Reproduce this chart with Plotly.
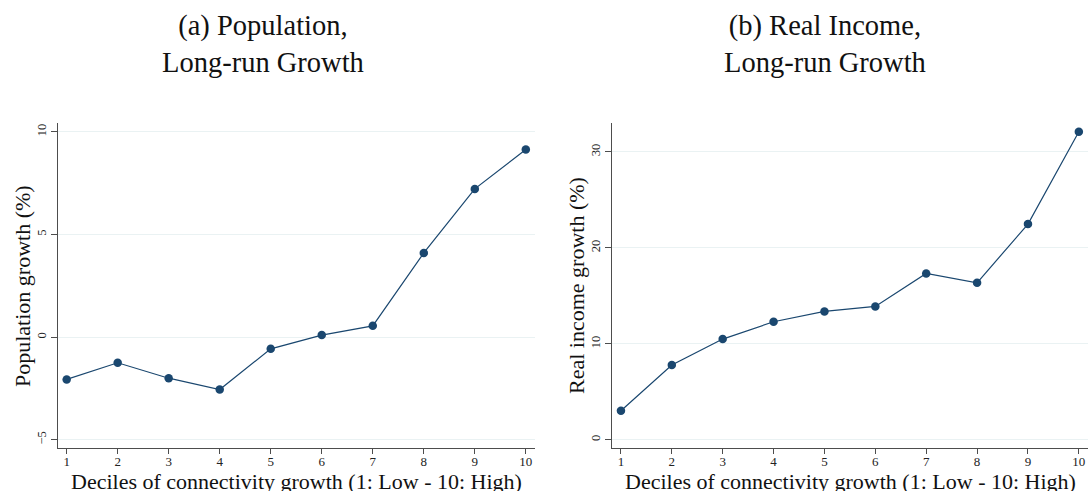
import plotly.graph_objects as go

deciles = [1, 2, 3, 4, 5, 6, 7, 8, 9, 10]
population_growth = [-2.06, -1.25, -2.0, -2.55, -0.57, 0.1, 0.55, 4.1, 7.22, 9.14]
real_income_growth = [3.02, 7.78, 10.49, 12.29, 13.37, 13.89, 17.32, 16.35, 22.47, 32.08]

pop_ticks = [-5, 0, 5, 10]
inc_ticks = [0, 10, 20, 30]

titles = ["(a) Population,<br>Long-run Growth", "(b) Real Income,<br>Long-run Growth"]
y_titles = ["Population growth (%)", "Real income growth (%)"]
x_title = "Deciles of connectivity growth (1: Low - 10: High)"

NAVY = "#1a476f"
GRID = "#eaf2f3"
AXIS = "#4d4d4d"
FONT = "Liberation Serif"

fig = go.Figure()
fig.add_trace(go.Scatter(x=deciles, y=population_growth, mode="lines+markers",
                         line=dict(color=NAVY, width=1.2),
                         marker=dict(color=NAVY, size=8.5), xaxis="x", yaxis="y",
                         showlegend=False))
fig.add_trace(go.Scatter(x=deciles, y=real_income_growth, mode="lines+markers",
                         line=dict(color=NAVY, width=1.2),
                         marker=dict(color=NAVY, size=8.5), xaxis="x2", yaxis="y2",
                         showlegend=False))

W, H = 1088, 491
dom_y = [1 - 448 / H, 1 - 123 / H]
dom_x1 = [58 / W, 535 / W]
dom_x2 = [612.3 / W, 1.0]

common_x = dict(tickvals=deciles, ticks="outside", ticklen=5, tickcolor=AXIS,
                showline=True, linecolor=AXIS, linewidth=1.2, showgrid=False,
                zeroline=False, tickfont=dict(family=FONT, size=13, color="#222"),
                ticklabelstandoff=-4, range=[0.83, 10.18])
common_y = dict(ticks="outside", ticklen=6, tickcolor=AXIS, tickangle=-90,
                showline=True, linecolor=AXIS, linewidth=1.2, showgrid=True,
                gridcolor=GRID, gridwidth=1.3, zeroline=False,
                tickfont=dict(family=FONT, size=12.5, color="#222"))

fig.update_layout(
    width=W, height=H, margin=dict(l=0, r=0, t=0, b=0),
    paper_bgcolor="white", plot_bgcolor="white",
    xaxis=dict(domain=dom_x1, anchor="y", **common_x),
    yaxis=dict(domain=dom_y, anchor="x", range=[-5.4, 10.43], tickvals=pop_ticks, **common_y),
    xaxis2=dict(domain=dom_x2, anchor="y2", **common_x),
    yaxis2=dict(domain=dom_y, anchor="x2", range=[-0.86, 33.0], tickvals=inc_ticks, **common_y),
)

ann = []
for cx, t in zip([263 / W, 825 / W], titles):
    ann.append(dict(text=t, x=cx, y=1 - 44 / H, xref="paper", yref="paper",
                    xanchor="center", yanchor="middle", showarrow=False,
                    font=dict(family=FONT, size=28.5, color="#111")))
for cx, t in zip([22 / W, 576 / W], y_titles):
    ann.append(dict(text=t, x=cx, y=1 - 286 / H, xref="paper", yref="paper",
                    xanchor="center", yanchor="middle", showarrow=False, textangle=-90,
                    font=dict(family=FONT, size=22, color="#111")))
for cx in [296 / W, 850 / W]:
    ann.append(dict(text=x_title, x=cx, y=1 - 481 / H, xref="paper", yref="paper",
                    xanchor="center", yanchor="middle", showarrow=False,
                    font=dict(family=FONT, size=22, color="#111")))
fig.update_layout(annotations=ann)

fig.write_html("out.html")
